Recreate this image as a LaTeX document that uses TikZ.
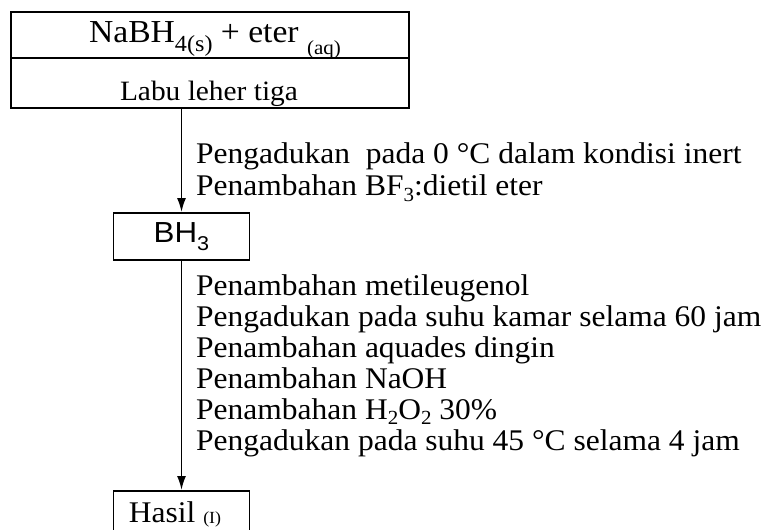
\documentclass[tikz,border=0pt]{standalone}
\usepackage{fontspec}
\setmainfont[FakeStretch=1.05]{Liberation Serif}
\setsansfont[FakeStretch=1.08]{Liberation Sans}
\usetikzlibrary{arrows.meta}
\newcommand{\lowsub}[3]{\raisebox{-#1pt}{\fontsize{#2}{#2}\selectfont #3}}
\tikzset{
  box/.style={draw, line width=1.8pt, inner sep=0pt, align=center},
  flow/.style={line width=1.8pt, -{Latex[length=14pt,width=9pt]}},
  stepline/.style={anchor=base west, inner sep=0pt,
    font=\fontsize{30}{31}\selectfont},
}
\begin{document}
\begin{tikzpicture}[x=1pt,y=-1pt]
\clip (0,0) rectangle (771,530);
\fill[white] (0,0) rectangle (771,530);
% top box
\node[box, minimum width=398pt, minimum height=46pt] (top1) at (210,35)
  {};
\node[anchor=base, inner sep=0pt, font=\fontsize{32}{32}\selectfont] (nabh) at (215,42)
  {NaBH\lowsub{9}{23}{4(s)} + eter \lowsub{12}{20}{(aq)}};
\node[box, minimum width=398pt, minimum height=50pt] (top2) at (210,83)
  {};
\node[anchor=base, inner sep=0pt, font=\fontsize{28}{31}\selectfont] (labu) at (209,100)
  {Labu leher tiga};
% BH3
\node[box, font=\sffamily\fontsize{29}{30}\selectfont, minimum width=136pt, minimum height=47pt] (bh) at (181.5,236.5)
  {BH\lowsub{8}{20}{3}};
% Hasil
\node[box, anchor=north, minimum width=136pt, minimum height=60pt] (hasil) at (181.5,490)
  {};
\node[anchor=base, inner sep=0pt, font=\fontsize{30}{31}\selectfont] (hasiltext) at (175,522)
  {Hasil \lowsub{1}{17}{(I)}};
% arrows
\draw[flow] (bh.north |- top2.south) -- (bh.north);
\draw[flow] (bh.south) -- (hasil.north);
% texts
\node[stepline] (a1) at (196,163) {Pengadukan\ \ pada 0 °C dalam kondisi inert};
\node[stepline] (a2) at (196,195) {Penambahan BF\lowsub{6}{20}{3}:dietil eter};
\node[stepline] (b1) at (196,295) {Penambahan metileugenol};
\node[stepline] (b2) at (196,326) {Pengadukan pada suhu kamar selama 60 jam};
\node[stepline] (b3) at (196,357) {Penambahan aquades dingin};
\node[stepline] (b4) at (196,388) {Penambahan NaOH};
\node[stepline] (b5) at (196,419) {Penambahan H\lowsub{5}{20}{2}O\lowsub{5}{20}{2} 30\%};
\node[stepline] (b6) at (196,450) {Pengadukan pada suhu 45 °C selama 4 jam};
\end{tikzpicture}
\end{document}
